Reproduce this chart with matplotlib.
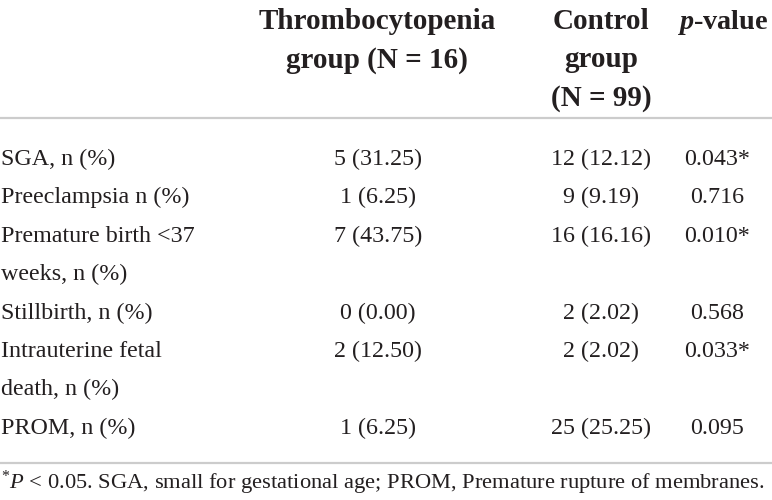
import matplotlib
matplotlib.use("Agg")
import matplotlib.pyplot as plt

# table content
row_labels = ["SGA, n (%)", "Preeclampsia n (%)", "Premature birth <37\nweeks, n (%)",
              "Stillbirth, n (%)", "Intrauterine fetal\ndeath, n (%)", "PROM, n (%)"]
thrombo_vals = ["5 (31.25)", "1 (6.25)", "7 (43.75)", "0 (0.00)", "2 (12.50)", "1 (6.25)"]
control_vals = ["12 (12.12)", "9 (9.19)", "16 (16.16)", "2 (2.02)", "2 (2.02)", "25 (25.25)"]
p_vals = ["0.043*", "0.716", "0.010*", "0.568", "0.033*", "0.095"]
headers = ["Thrombocytopenia\ngroup (N = 16)", "Control\ngroup\n(N = 99)", r"$\mathbf{p}$-value"]
footnote = r"$^{*}$$\mathit{P}$ < 0.05. SGA, small for gestational age; PROM, Premature rupture of membranes."

plt.rcParams["font.family"] = "Liberation Serif"
plt.rcParams["mathtext.fontset"] = "custom"
plt.rcParams["mathtext.rm"] = "Liberation Serif"
plt.rcParams["mathtext.it"] = "Liberation Serif:italic"
plt.rcParams["mathtext.bf"] = "Liberation Serif:italic:bold"

fig = plt.figure(figsize=(7.72, 5.0), dpi=100)
ax = fig.add_axes([0, 0, 1, 1])
ax.set_xlim(0, 772)
ax.set_ylim(500, 0)
ax.axis("off")

txt = "#231f20"
fs = 17.3
hfs = 21
pitch = 38.4
col_x = [378, 601, 717]
head_x = [377, 601, 723]

# header, one line at a time
for x, h in zip(head_x, headers):
    for k, line in enumerate(h.split("\n")):
        ax.text(x, 29 + k * pitch, line, ha="center", va="baseline",
                fontsize=hfs if "value" not in line else 20.3,
                fontweight="bold", color=txt)

ax.axhline(117.5, color="#cccccc", lw=1.6)

# body rows
k = 0
for lab, t, c, p in zip(row_labels, thrombo_vals, control_vals, p_vals):
    base = 165 + k * pitch
    for j, line in enumerate(lab.split("\n")):
        ax.text(1, base + j * pitch, line, ha="left", va="baseline", fontsize=fs, color=txt)
    ax.text(col_x[0], base, t, ha="center", va="baseline", fontsize=fs, color=txt)
    ax.text(col_x[1], base, c, ha="center", va="baseline", fontsize=fs, color=txt)
    ax.text(col_x[2], base, p, ha="center", va="baseline", fontsize=fs, color=txt)
    k += lab.count("\n") + 1

ax.axhline(462.5, color="#cccccc", lw=1.6)

ax.text(1, 489, footnote, ha="left", va="baseline", fontsize=16.2, color=txt)

fig.savefig("out.png", dpi=100)
